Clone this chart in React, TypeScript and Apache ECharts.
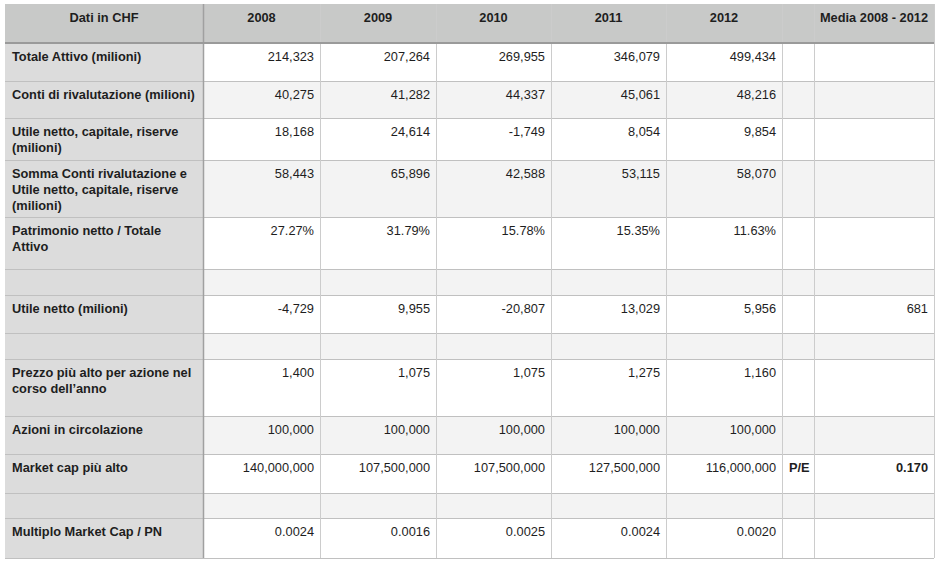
import React, { useEffect, useRef } from "react";
import * as echarts from "echarts";

const headerFirst = "Dati in CHF";
const years = ["2008", "2009", "2010", "2011", "2012"];
const mediaHeader = "Media 2008 - 2012";

const rowLabels = [
  "Totale Attivo (milioni)",
  "Conti di rivalutazione (milioni)",
  "Utile netto, capitale, riserve\n(milioni)",
  "Somma Conti rivalutazione e\nUtile netto, capitale, riserve\n(milioni)",
  "Patrimonio netto / Totale\nAttivo",
  "",
  "Utile netto (milioni)",
  "",
  "Prezzo più alto per azione nel\ncorso dell’anno",
  "Azioni in circolazione",
  "Market cap più alto",
  "",
  "Multiplo Market Cap / PN",
];

const totaleAttivo = [214323, 207264, 269955, 346079, 499434];
const contiRivalutazione = [40275, 41282, 44337, 45061, 48216];
const utileCapitaleRiserve = [18168, 24614, -1749, 8054, 9854];
const sommaConti = [58443, 65896, 42588, 53115, 58070];
const patrimonioSuAttivo = [27.27, 31.79, 15.78, 15.35, 11.63];
const utileNetto = [-4729, 9955, -20807, 13029, 5956];
const prezzoMax = [1400, 1075, 1075, 1275, 1160];
const azioni = [100000, 100000, 100000, 100000, 100000];
const marketCap = [140000000, 107500000, 107500000, 127500000, 116000000];
const multiplo = [0.0024, 0.0016, 0.0025, 0.0024, 0.002];
const mediaUtileNetto = 681;
const peLabel = "P/E";
const peValue = 0.17;

const fmtInt = (v: number) => v.toLocaleString("en-US");
const fmtPct = (v: number) => v.toFixed(2) + "%";
const fmt4 = (v: number) => v.toFixed(4);

const rowValues: (string[] | null)[] = [
  totaleAttivo.map(fmtInt),
  contiRivalutazione.map(fmtInt),
  utileCapitaleRiserve.map(fmtInt),
  sommaConti.map(fmtInt),
  patrimonioSuAttivo.map(fmtPct),
  null,
  utileNetto.map(fmtInt),
  null,
  prezzoMax.map(fmtInt),
  azioni.map(fmtInt),
  marketCap.map(fmtInt),
  null,
  multiplo.map(fmt4),
];

// layout
const colX = [5, 203, 320, 436, 551, 666, 782, 814, 934];
const rowY = [4, 43, 81, 118, 160, 217, 269, 295, 333, 359, 416, 454, 493, 518, 558];

const FONT = "'Liberation Sans', Arial, Helvetica, sans-serif";
const FS = "12.8px";
const TEXT = "#1e1e1e";
const TY = 13;

function buildGraphic() {
  const els: any[] = [];
  const left = colX[0];
  const right = colX[colX.length - 1];
  els.push({
    type: "rect",
    shape: { x: left, y: rowY[0], width: right - left, height: rowY[1] - rowY[0] },
    style: { fill: "#c8c9c8" },
  });
  for (let r = 0; r < rowLabels.length; r++) {
    const y0 = rowY[r + 1];
    const y1 = rowY[r + 2];
    els.push({
      type: "rect",
      shape: { x: colX[1], y: y0, width: right - colX[1], height: y1 - y0 },
      style: { fill: r % 2 === 0 ? "#ffffff" : "#f3f3f3" },
    });
  }
  els.push({
    type: "rect",
    shape: { x: left, y: rowY[1], width: colX[1] - left, height: rowY[rowY.length - 1] - rowY[1] },
    style: { fill: "#dcdcdc" },
  });
  for (let i = 2; i < rowY.length; i++) {
    els.push({
      type: "line",
      shape: { x1: left, y1: rowY[i] + 0.5, x2: right, y2: rowY[i] + 0.5 },
      style: { stroke: "#c0c0c0", lineWidth: 1 },
    });
  }
  for (let j = 1; j < colX.length; j++) {
    els.push({
      type: "line",
      shape: { x1: colX[j] + 0.5, y1: rowY[0], x2: colX[j] + 0.5, y2: rowY[rowY.length - 1] },
      style: { stroke: j === 1 ? "#a0a0a0" : "#cccccc", lineWidth: j === 1 ? 1.5 : 1 },
    });
  }
  els.push({
    type: "line",
    shape: { x1: left, y1: rowY[1], x2: right, y2: rowY[1] },
    style: { stroke: "#9a9a9a", lineWidth: 2 },
  });
  const headers = [headerFirst, ...years, "", mediaHeader];
  headers.forEach((h, j) => {
    if (!h) return;
    els.push({
      type: "text",
      x: (colX[j] + colX[j + 1]) / 2,
      y: rowY[0] + TY,
      style: {
        text: h,
        fill: TEXT,
        font: `bold ${FS} ${FONT}`,
        align: "center",
        verticalAlign: "middle",
      },
    });
  });
  rowLabels.forEach((lab, r) => {
    const top = rowY[r + 1];
    if (lab) {
      els.push({
        type: "text",
        x: colX[0] + 7,
        y: top + TY - 8,
        style: {
          text: lab,
          fill: TEXT,
          font: `bold ${FS} ${FONT}`,
          lineHeight: 16,
          align: "left",
          verticalAlign: "top",
        },
      });
    }
    const vals = rowValues[r];
    if (vals) {
      vals.forEach((v, j) => {
        els.push({
          type: "text",
          x: colX[j + 2] - 6,
          y: top + TY,
          style: {
            text: v,
            fill: TEXT,
            font: `${FS} ${FONT}`,
            align: "right",
            verticalAlign: "middle",
          },
        });
      });
    }
  });
  els.push({
    type: "text",
    x: colX[8] - 6,
    y: rowY[7] + TY,
    style: { text: String(mediaUtileNetto), fill: TEXT, font: `${FS} ${FONT}`, align: "right", verticalAlign: "middle" },
  });
  els.push({
    type: "text",
    x: colX[6] + 7,
    y: rowY[11] + TY,
    style: { text: peLabel, fill: TEXT, font: `bold ${FS} ${FONT}`, align: "left", verticalAlign: "middle" },
  });
  els.push({
    type: "text",
    x: colX[8] - 6,
    y: rowY[11] + TY,
    style: { text: peValue.toFixed(3), fill: TEXT, font: `bold ${FS} ${FONT}`, align: "right", verticalAlign: "middle" },
  });
  return els;
}

export default function App() {
  const ref = useRef<HTMLDivElement>(null);
  useEffect(() => {
    if (!ref.current) return;
    const chart = echarts.init(ref.current, undefined, { renderer: "svg" });
    chart.setOption({
      animation: false,
      backgroundColor: "#ffffff",
      graphic: { elements: buildGraphic() },
    });
    return () => chart.dispose();
  }, []);
  return (
    <div
      ref={ref}
      style={{ position: "fixed", left: 0, top: 0, width: 940, height: 565, background: "#fff" }}
    />
  );
}
